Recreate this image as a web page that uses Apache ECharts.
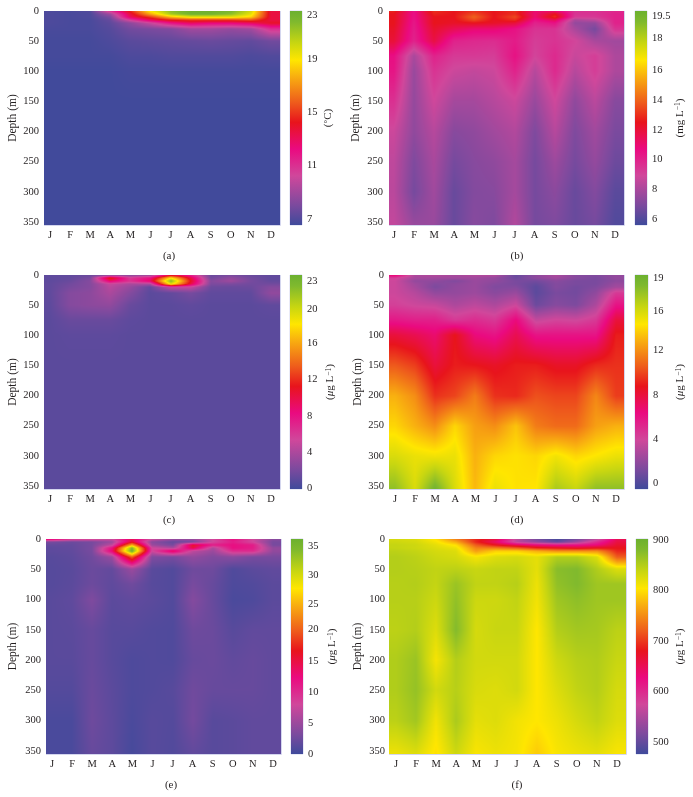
<!DOCTYPE html>
<html>
<head>
<meta charset="utf-8">
<style>html,body{margin:0;padding:0;background:#fff}#c{width:693px;height:797px}</style>
<script src="https://cdn.jsdelivr.net/npm/echarts@6/dist/echarts.min.js"></script>
</head>
<body>
<div id="c"></div>
<script>
// ---------- Categories and node depths ----------
const months = ['J','F','M','A','M','J','J','A','S','O','N','D'];
const depths = [0,5,10,15,20,30,50,75,100,150,200,250,300,355];

// ---------- Values: one row per month, one column per depth ----------
const temperature = [
 [6.9,6.9,6.9,6.9,6.9,6.8,6.7,6.7,6.6,6.6,6.6,6.6,6.6,6.6],
 [6.8,6.8,6.8,6.8,6.8,6.8,6.7,6.7,6.6,6.6,6.6,6.6,6.6,6.6],
 [7.0,6.9,6.9,6.8,6.8,6.8,6.7,6.7,6.6,6.6,6.6,6.6,6.6,6.6],
 [11,9,8,7.5,7.3,7.1,6.9,6.7,6.6,6.6,6.6,6.6,6.6,6.6],
 [14.5,13.5,13,10.5,8.5,7.8,7.2,6.9,6.7,6.6,6.6,6.6,6.6,6.6],
 [19,17.5,15,13,10,8,7.3,6.9,6.7,6.6,6.6,6.6,6.6,6.6],
 [21.5,21,18,14.5,12,8.2,7.4,7.0,6.7,6.6,6.6,6.6,6.6,6.6],
 [22.5,22.3,19.5,15,13,9,7.5,7.0,6.7,6.6,6.6,6.6,6.6,6.6],
 [22.5,22.3,19.5,15,12.5,9,7.6,7.0,6.7,6.6,6.6,6.6,6.6,6.6],
 [22,21.5,19.5,15,12.5,8.7,7.5,7.0,6.7,6.6,6.6,6.6,6.6,6.6],
 [20,19.5,18.5,15.5,13,9,7.4,6.9,6.7,6.6,6.6,6.6,6.6,6.6],
 [13.5,13.5,13.5,13.5,14,11,7.8,7.0,6.7,6.6,6.6,6.6,6.6,6.6]
];
const oxygen = [
 [12.8,12.5,12.5,12.5,12.5,12.3,12,10.6,10.4,9.6,8.8,8.5,8.4,8.6],
 [10.5,10.5,10.5,10.4,10.3,10.2,10,8,7.6,7.5,7.4,7.0,6.8,7.6],
 [13,12.8,12.5,12.5,12.5,12.2,11.8,10,9.5,8.9,8.3,8,7.8,7.6],
 [12.5,12.5,12.5,12.4,12.3,11.5,10,9.3,8.8,7.9,7.2,6.8,6.5,6.5],
 [13,13.5,14,13.5,12.5,11,9.8,9.3,8.6,7.9,7.4,7.2,7.1,7.2],
 [12.5,12.5,12.5,12.4,12.3,11,9.7,9.2,8.8,8.3,7.8,7.4,7.2,7],
 [13,13,13.5,13,12,10.5,10.2,10.5,10,8.8,8.2,7.9,7.9,8.2],
 [11,11,11,10.5,10,9.5,9.2,9,8.3,7.6,7,6.8,6.8,6.8],
 [11,12.5,13,11.5,10.5,9.5,9.5,9.8,9.8,8.9,8.3,7.7,7.3,7],
 [9.5,9.5,9.3,8,7.5,8,9,8.7,8.3,7.4,7,6.8,6.5,6.5],
 [9.5,9.5,9.3,8.5,7.5,6.8,8,9.2,9.2,8.4,7.8,7.5,7.1,6.8],
 [9.8,10,10,10,10,9.5,7.8,8.1,8.1,7.2,6.9,6.6,6.2,6]
];
const panelC = [
 [1.1,1.1,1.1,1.2,1.2,1.2,1.1,1,1,1,1,1,1,1],
 [1.2,1.3,1.5,1.8,2,2.5,2.5,1.5,1.1,1,1,1,1,1],
 [1.5,2,2.5,2.5,2.5,2.8,2.8,1.5,1.1,1,1,1,1,1],
 [2,12,9,5,4.5,4,3,1.5,1.1,1,1,1,1,1],
 [2.5,6,6.5,4,3.2,2.5,1.5,1.1,1,1,1,1,1,1],
 [3,8,9,4,1.3,1,1,1,1,1,1,1,1,1],
 [10,18,22,19,5,1.3,1,1,1,1,1,1,1,1],
 [7,10,11,10,5,2,1.2,1,1,1,1,1,1,1],
 [1.5,1.8,2.5,2.2,1.6,1.2,1,1,1,1,1,1,1,1],
 [2,3,3.5,2.2,1.5,1.2,1,1,1,1,1,1,1,1],
 [1.5,1.8,2,1.8,1.6,1.2,1,1,1,1,1,1,1,1],
 [1.2,1.2,1.3,1.8,2.5,3,1.2,1,1,1,1,1,1,1]
];
const panelD = [
 [7,4.2,3.8,3.8,3.8,3.8,4.2,5.8,8,10.5,13,14,15.5,17.5],
 [2.8,2.6,2,2.4,2.6,3.1,3.8,5.5,7.5,9.8,12,13,15,15.5],
 [3,2.4,1.9,1.5,1.3,2,3.6,5.5,6.8,8,9.5,12,14.8,18.5],
 [2.6,2.4,1.4,1.8,1.9,2,2.8,4.5,8.8,9,10,14,15,15.5],
 [3,2.4,2.2,2.2,2.2,2.3,3.3,5,6.5,8.8,11.5,12.5,13,13.2],
 [3,2,1.9,1.6,1.4,1.7,2.8,4.5,6,8.5,9.5,12,14,15],
 [0.6,0.8,1.2,1.2,1.5,2.2,3.8,6.5,7.5,9,9.3,13.5,14.3,14.3],
 [1.8,1.8,1,0.6,0.3,0.3,0.8,3.5,6,9,10.3,11.5,14,14.4],
 [2.8,2.4,1.7,1.5,1.5,1.2,1.6,4,6,8.5,10,11,14.8,16.8],
 [1.6,1.6,1.2,1.2,1,1,1.3,3.8,6,8.5,10,11,14,16],
 [1.4,1.2,1.2,1.2,1.4,1.9,2.8,4.5,6,9.3,11.8,12.5,14.5,17.5],
 [2,2,1.8,2.2,2.5,4.5,6,8,9,9.5,9.8,13,15,17.5]
];
const panelE = [
 [14,3,2,1.6,1.6,1.3,1.2,1.2,1.4,1.4,1.4,1.1,0.6,0.6],
 [10,2.4,2,1.9,1.8,1.6,1.4,1.5,1.7,1.5,1.4,1.1,0.6,0.6],
 [9,3,3,3,3,2.6,2.3,2.4,3.4,2.1,2.1,2.3,2.5,2.1],
 [8,5,7,12,13,5,1.9,1.7,1.5,1.3,1.3,1.5,1.6,1.6],
 [14,16,24,33,34.5,20,5,2.6,1.8,1.3,0.8,0.8,0.6,0.4],
 [8,4,5,8,8,3.5,1.4,1.3,1.5,1,1,1,1.3,1.3],
 [5,2,3,6,14,3,1,1,1,0.9,0.9,1.3,1.1,1],
 [5,3,16,15,7,4.5,2.5,3,3.7,2.5,2.1,2.6,2.8,1.8],
 [8,8,11,6,5,3.5,2.5,2.1,2.1,2.3,2.3,2.1,1.3,1.3],
 [12,11,12,12,10,4,0.9,0.8,0.6,1.3,1.8,2.1,1.5,1.5],
 [8,8,11,11,10,3,1.5,1,0.8,1.8,2.1,2.1,1.8,1.8],
 [4,3,3,4.5,4.5,3,1.8,1.5,1.5,1.8,1.8,1.8,1.8,1.8]
];
const panelF = [
 [830,835,840,840,845,850,850,848,848,845,852,852,845,815],
 [825,830,835,835,840,845,848,850,848,850,865,868,860,825],
 [800,810,820,825,830,835,842,840,835,825,810,832,812,800],
 [740,770,800,815,825,830,845,865,870,878,850,848,855,835],
 [690,690,720,745,760,810,838,842,835,830,832,828,820,808],
 [660,640,680,740,790,825,842,842,835,838,832,825,825,815],
 [560,560,650,720,790,830,842,848,842,838,832,832,812,810],
 [510,530,630,690,770,820,820,815,812,804,804,804,804,788],
 [480,500,620,680,750,850,875,870,862,850,835,825,815,808],
 [510,540,620,670,750,850,880,880,872,860,848,842,830,815],
 [560,600,630,680,750,825,852,862,862,858,852,850,842,820],
 [650,660,670,680,690,720,825,862,862,845,838,830,825,808]
];

// ---------- Colour-bar ranges, tick labels and units ----------
const rangeA = [6.55,22.6], rangeB = [5.6,20], rangeC = [0,23.4], rangeD = [-0.55,18.9], rangeE = [0,34.7], rangeF = [476,902];
const ticksA = ['7','11','15','19','23'];
const ticksB = ['6','8','10','12','14','16','18','19.5'];
const ticksC = ['0','4','8','12','16','20','23'];
const ticksD = ['0','4','8','12','16','19'];
const ticksE = ['0','5','10','15','20','25','30','35'];
const ticksF = ['500','600','700','800','900'];
// where each tick label sits on its bar (the top labels are squeezed in the original)
const tickAtA = [7,11,15,19,22.26];
const tickAtB = [6,8,10,12,14,16.03,18.2,19.67];
const tickAtC = [0.1,4,8,12,15.9,19.7,22.7];
const tickAtD = [0,4,8,12.1,15.6,18.6];
const tickAtE = [0,5,10,15,20.2,24.2,28.9,33.5];
const tickAtF = [500,600,700,800,900];
const unitC = '({t|°}C)';
const unitMg = '(mg L{s|−1})';
const unitMu = '({i|μ}g L{s|−1})';

// ---------- Colour ramp of the original bars ----------
const ramp = [
 [0,[63,74,155]],[0.09,[122,74,158]],[0.23,[208,71,155]],[0.355,[234,10,128]],
 [0.48,[232,20,28]],[0.57,[238,90,28]],[0.70,[249,179,15]],[0.77,[255,230,0]],
 [0.85,[200,214,17]],[0.95,[127,185,46]],[1,[108,176,48]]
];
function rampColor(f){
  f = Math.max(0,Math.min(1,f));
  for(let k=1;k<ramp.length;k++){
    if(f<=ramp[k][0]){
      const a=ramp[k-1],b=ramp[k],t=(f-a[0])/(b[0]-a[0]);
      return [0,1,2].map(c=>a[1][c]+(b[1][c]-a[1][c])*t);
    }
  }
  return ramp[ramp.length-1][1];
}
const gradientStops = ramp.map(s=>({offset:s[0],color:'rgb('+s[1].join(',')+')'}));

// grid: axis box (bands centred on the month labels); plot: painted extent in x
const panels = [
 {cap:'(a)',capX:169,capY:251,values:temperature,range:rangeA,ticks:ticksA,at:tickAtA,unit:unitC,grid:[40,11,241,214],plot:[44,280],bar:[290,11,12,214],nameGap:21,depthGap:21},
 {cap:'(b)',capX:517,capY:251,values:oxygen,range:rangeB,ticks:ticksB,at:tickAtB,unit:unitMg,grid:[384,11,241,214],plot:[389,624],bar:[635,11,12,214],nameGap:27,depthGap:22},
 {cap:'(c)',capX:169,capY:515,values:panelC,range:rangeC,ticks:ticksC,at:tickAtC,unit:unitMu,grid:[40,275,241,214],plot:[44,280],bar:[290,275,12,214],nameGap:23,depthGap:21},
 {cap:'(d)',capX:517,capY:515,values:panelD,range:rangeD,ticks:ticksD,at:tickAtD,unit:unitMu,grid:[385,275,241,214],plot:[389,624],bar:[635,275,13,214],nameGap:27,depthGap:21},
 {cap:'(e)',capX:171,capY:780,values:panelE,range:rangeE,ticks:ticksE,at:tickAtE,unit:unitMu,grid:[42,539,241,215],plot:[46,281],bar:[291,539,12,215],nameGap:24,depthGap:23},
 {cap:'(f)',capX:517,capY:780,values:panelF,range:rangeF,ticks:ticksF,at:tickAtF,unit:unitMu,grid:[386,539,241,215],plot:[389,626],bar:[636,539,12,215],nameGap:27,depthGap:22}
];

const FONT = '"Liberation Serif", serif';
const INK = '#231f20';
const EDGE = '#d4d6ee';

// Shades a rectangle of the plot by blending the four surrounding node values.
function shadeCell(x0,x1,y0,y1,v00,v10,v01,v11,range){
  const w=x1-x0,h=y1-y0;
  if(w<=0||h<=0) return null;
  const cv=document.createElement('canvas');cv.width=w;cv.height=h;
  const ctx=cv.getContext('2d'),img=ctx.createImageData(w,h);
  for(let py=0;py<h;py++){
    const ty=(py+0.5)/h;
    for(let px=0;px<w;px++){
      const tx=(px+0.5)/w;
      const v=(v00*(1-tx)+v10*tx)*(1-ty)+(v01*(1-tx)+v11*tx)*ty;
      const c=rampColor((v-range[0])/(range[1]-range[0]));
      const o=(py*w+px)*4;
      img.data[o]=c[0];img.data[o+1]=c[1];img.data[o+2]=c[2];img.data[o+3]=255;
    }
  }
  ctx.putImageData(img,0,0);
  return {type:'image',silent:true,style:{image:cv,x:x0,y:y0,width:w,height:h}};
}

const grid=[],xAxis=[],yAxis=[],series=[],title=[];
panels.forEach((p)=>{
  const gi=grid.length;
  // --- main plot ---
  grid.push({left:p.grid[0],top:p.grid[1],width:p.grid[2],height:p.grid[3],show:false,outerBoundsMode:'none',containLabel:false});
  xAxis.push({type:'category',gridIndex:gi,data:months,
    axisLine:{show:false},axisTick:{show:false},splitLine:{show:false},
    axisLabel:{interval:0,margin:5,fontFamily:FONT,fontSize:10.5,color:INK}});
  yAxis.push({type:'value',gridIndex:gi,inverse:true,min:0,max:355,interval:50,
    name:'Depth (m)',nameLocation:'middle',nameGap:p.depthGap,nameRotate:90,
    nameTextStyle:{fontFamily:FONT,fontSize:11.5,color:INK},
    axisLine:{show:false},axisTick:{show:false},splitLine:{show:false},
    axisLabel:{margin:1,showMaxLabel:false,fontFamily:FONT,fontSize:10.5,color:INK}});
  const data=[];
  p.values.forEach((col,i)=>col.forEach((v,j)=>{ if(j<depths.length-1) data.push([i,depths[j],v,j]); }));
  const vals=p.values,range=p.range,plot=p.plot;
  series.push({type:'custom',xAxisIndex:gi,yAxisIndex:gi,coordinateSystem:'cartesian2d',silent:true,animation:false,clip:false,data,
    encode:{x:0,y:1},
    renderItem:function(params,api){
      const i=api.value(0),j=api.value(3);
      const a=api.coord([i,depths[j]]),b=api.coord([i,depths[j+1]]);
      const y0=Math.round(a[1]),y1=Math.round(b[1]);
      const children=[];
      const nx=Math.min(i+1,11);
      const xl=Math.round(a[0]);
      const xr=i<11?Math.round(api.coord([i+1,depths[j]])[0]):plot[1];
      const piece=shadeCell(xl,xr,y0,y1,vals[i][j],vals[nx][j],vals[i][j+1],vals[nx][j+1],range);
      if(piece) children.push(piece);
      if(i===0){
        const left=shadeCell(plot[0],xl,y0,y1,vals[0][j],vals[0][j],vals[0][j+1],vals[0][j+1],range);
        if(left) children.push(left);
      }
      if(i===11&&j===depths.length-2){
        const top=Math.round(api.coord([i,0])[1]);
        children.push({type:'polyline',silent:true,shape:{points:[[plot[1]+0.5,top],[plot[1]+0.5,y1+0.5],[plot[0],y1+0.5]]},style:{fill:'none',stroke:EDGE,lineWidth:1}});
      }
      return {type:'group',children};
    }});
  // --- colour bar ---
  const bi=grid.length;
  grid.push({left:p.bar[0],top:p.bar[1],width:p.bar[2],height:p.bar[3],show:true,borderColor:EDGE,borderWidth:1,outerBoundsMode:'none',containLabel:false});
  xAxis.push({type:'category',gridIndex:bi,data:[''],show:false});
  const at=p.at,labels=p.ticks;
  yAxis.push({type:'value',gridIndex:bi,position:'right',min:p.range[0],max:p.range[1],
    name:p.unit,nameLocation:'middle',nameGap:p.nameGap,nameRotate:90,
    nameTextStyle:{fontFamily:FONT,fontSize:11,color:INK,rich:{
      t:{fontFamily:FONT,fontSize:9,color:INK,verticalAlign:'top'},
      i:{fontFamily:FONT,fontSize:11,fontStyle:'italic',color:INK},
      s:{fontFamily:FONT,fontSize:7.5,color:INK,verticalAlign:'top',padding:[0,0,3,0]}}},
    axisLine:{show:false},axisTick:{show:false},splitLine:{show:false},
    axisLabel:{customValues:at,margin:5,fontFamily:FONT,fontSize:10.5,color:INK,
      formatter:function(v){let best=0;at.forEach((t,k)=>{if(Math.abs(t-v)<Math.abs(at[best]-v))best=k;});return labels[best];}}});
  series.push({type:'custom',xAxisIndex:bi,yAxisIndex:bi,coordinateSystem:'cartesian2d',silent:true,animation:false,
    data:[[0,p.range[0],p.range[1]]],encode:{x:0,y:[1,2]},
    renderItem:function(params,api){
      const top=api.coord([0,api.value(2)]),bot=api.coord([0,api.value(1)]),cs=params.coordSys;
      return {type:'rect',shape:{x:cs.x,y:top[1],width:cs.width,height:bot[1]-top[1]},
        style:{fill:new echarts.graphic.LinearGradient(0,1,0,0,gradientStops)}};
    }});
  title.push({text:p.cap,left:p.capX,top:p.capY,textAlign:'center',textStyle:{fontFamily:FONT,fontSize:11,fontWeight:'normal',color:INK},padding:0});
});

const chart=echarts.init(document.getElementById('c'),null,{renderer:'canvas',width:693,height:797});
chart.setOption({animation:false,backgroundColor:'#fff',title,grid,xAxis,yAxis,series,tooltip:{show:false}});
</script>
</body>
</html>
